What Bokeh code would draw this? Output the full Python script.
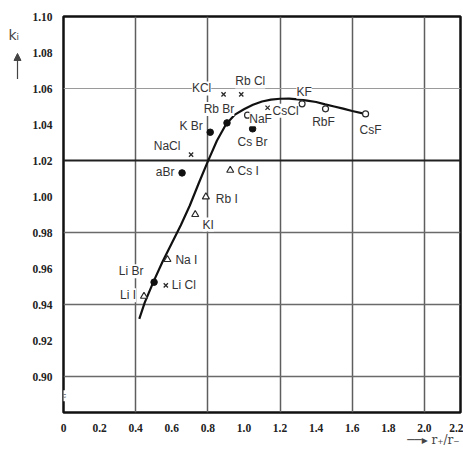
from bokeh.plotting import figure
from bokeh.layouts import row
from bokeh.models import (ColumnDataSource, LabelSet, Label, Arrow, NormalHead,
                          FixedTicker, Grid, Range1d, LinearAxis)
from bokeh.core.properties import value
from bokeh.embed import file_html
from bokeh.resources import INLINE

# ---------------- data ----------------
cross_names = ["KCl", "Rb Cl", "NaCl", "CsCl", "Li Cl"]
cross_x = [0.887, 0.985, 0.707, 1.131, 0.567]
cross_y = [1.0567, 1.0567, 1.0233, 1.0493, 0.9506]

dot_names = ["Rb Br", "K Br", "aBr", "Cs Br", "Li Br"]
dot_x = [0.906, 0.813, 0.657, 1.048, 0.502]
dot_y = [1.0409, 1.0357, 1.0131, 1.0376, 0.9524]

circle_names = ["NaF", "KF", "RbF", "CsF"]
circle_x = [1.020, 1.322, 1.452, 1.674]
circle_y = [1.0452, 1.0515, 1.0487, 1.0459]

tri_names = ["Cs I", "Rb I", "KI", "Na I", "Li I"]
tri_x = [0.924, 0.789, 0.730, 0.576, 0.446]
tri_y = [1.0146, 0.9998, 0.990, 0.965, 0.9446]

curve_x = [0.42, 0.45, 0.50, 0.55, 0.60, 0.65, 0.70, 0.75, 0.80, 0.85, 0.90,
           0.95, 1.00, 1.05, 1.10, 1.15, 1.20, 1.25, 1.30, 1.35, 1.40, 1.45,
           1.50, 1.55, 1.60, 1.67]
curve_y = [0.932, 0.941, 0.953, 0.964, 0.974, 0.984, 0.995, 1.0075, 1.0195,
           1.031, 1.040, 1.0455, 1.0485, 1.051, 1.0528, 1.0538, 1.0543, 1.0544,
           1.0540, 1.0533, 1.0525, 1.0512, 1.0500, 1.0488, 1.0475, 1.0459]

x_ticks = [0, 0.2, 0.4, 0.6, 0.8, 1.0, 1.2, 1.4, 1.6, 1.8, 2.0, 2.2]
x_tick_labels = ["0", "0.2", "0.4", "0.6", "0.8", "1.0", "1.2", "1.4", "1.6", "1.8", "2.0", "2.2"]
y_ticks = [0.90, 0.92, 0.94, 0.96, 0.98, 1.00, 1.02, 1.04, 1.06, 1.08, 1.10]
y_tick_labels = ["0.90", "0.92", "0.94", "0.96", "0.98", "1.00", "1.02", "1.04", "1.06", "1.08", "1.10"]
x_title = "──▸ r₊/r₋"
y_title = "kᵢ"

# label offsets in screen pixels (layout only)
label_offsets = {
    "KCl": (-22, 6), "Rb Cl": (9, 13), "NaCl": (-24, 9), "CsCl": (18, -3), "Li Cl": (18, 0),
    "Rb Br": (-8, 14), "K Br": (-19, 6), "aBr": (-17, 1), "Cs Br": (0, -13), "Li Br": (-23, 11),
    "NaF": (13, -4), "KF": (2, 12), "RbF": (-2, -13), "CsF": (5, -16),
    "Cs I": (18, -1), "Rb I": (21, -2), "KI": (13, -10), "Na I": (19, 0), "Li I": (-16, 1),
}

INK = "#2a2a2a"
LEFT_W = 26

p = figure(width=463 - LEFT_W, height=450, x_range=Range1d(0, 2.2), y_range=Range1d(0.88, 1.10),
           output_backend="svg", toolbar_location=None,
           min_border_left=63 - LEFT_W, min_border_right=3, min_border_top=16, min_border_bottom=38)
p.outline_line_color = "#111111"
p.outline_line_width = 2.5
p.background_fill_color = "white"

# grids
p.xgrid.ticker = FixedTicker(ticks=[0.4, 0.8, 1.2, 1.6, 2.0])
p.xgrid.grid_line_color = "#5e5e5e"
p.xgrid.grid_line_width = 1.5
p.ygrid.ticker = FixedTicker(ticks=[0.90, 0.94, 0.98])
p.ygrid.grid_line_color = "#6a6a6a"
p.ygrid.grid_line_width = 1.4
p.add_layout(Grid(dimension=1, ticker=FixedTicker(ticks=[1.06]),
                  grid_line_color="#9a9a9a", grid_line_width=1.2))
p.add_layout(Grid(dimension=1, ticker=FixedTicker(ticks=[1.02]),
                  grid_line_color="#202020", grid_line_width=1.8))

# axes
for ax in (p.xaxis, p.yaxis):
    ax.axis_line_color = None
    ax.major_tick_line_color = None
    ax.minor_tick_line_color = None
    ax.major_tick_out = 0
    ax.major_tick_in = 0
    ax.minor_tick_out = 0
    ax.minor_tick_in = 0
    ax.major_label_text_font = "Liberation Serif"
    ax.major_label_text_font_style = "bold"
    ax.major_label_text_font_size = "11.5px"
    ax.major_label_text_color = "#222222"
p.xaxis.ticker = FixedTicker(ticks=x_ticks)
p.yaxis.ticker = FixedTicker(ticks=y_ticks)
p.xaxis.major_label_overrides = dict(zip(x_ticks, x_tick_labels))
p.yaxis.major_label_overrides = dict(zip(y_ticks, y_tick_labels))
p.xaxis.major_label_standoff = 11
p.yaxis.major_label_standoff = 11

# x-axis title as an extra axis tick label at the bottom right
xt = LinearAxis(ticker=FixedTicker(ticks=[2.05]), major_label_overrides={2.05: x_title},
                axis_line_color=None, major_tick_line_color=None, minor_tick_line_color=None,
                major_tick_out=0, major_tick_in=0, minor_tick_out=0, minor_tick_in=0,
                major_label_standoff=-2, major_label_text_font="DejaVu Serif",
                major_label_text_font_size="12px", major_label_text_color="#444444")
p.add_layout(xt, "below")

# curve
p.line(curve_x, curve_y, line_color="#111111", line_width=2.2)

# markers
p.scatter(cross_x, cross_y, marker="x", size=6, line_color=INK, line_width=1.3)
p.scatter(dot_x, dot_y, marker="circle", size=6.5, fill_color="#111111", line_color="#111111")
p.scatter(circle_x, circle_y, marker="circle", size=6, fill_color="white", line_color=INK, line_width=1.2)
p.scatter(tri_x, tri_y, marker="triangle", size=7, fill_color="white", line_color=INK, line_width=1.2)

# labels
names = cross_names + dot_names + circle_names + tri_names
lx = cross_x + dot_x + circle_x + tri_x
ly = cross_y + dot_y + circle_y + tri_y
src = ColumnDataSource(dict(x=lx, y=ly, name=names,
                            dx=[label_offsets[n][0] for n in names],
                            dy=[label_offsets[n][1] for n in names]))
p.add_layout(LabelSet(x="x", y="y", text="name", source=src, x_offset="dx", y_offset="dy",
                      text_align="center", text_baseline="middle",
                      text_font=value("Liberation Sans"), text_font_size=value("12px"),
                      text_color=value("#333333"),
                      background_fill_color="white", background_fill_alpha=1.0))

# axis break mark
p.add_layout(Label(x=0, y=0.8893, text="≈", text_align="center", text_baseline="middle",
                   text_font_size="10px", text_color="#555555",
                   background_fill_color="white"))

# narrow strip on the left holding the y title and its arrow (pixel coordinates)
left = figure(width=LEFT_W, height=450, x_range=Range1d(0, LEFT_W), y_range=Range1d(450, 0),
              output_backend="svg", toolbar_location=None,
              min_border_left=0, min_border_right=0, min_border_top=0, min_border_bottom=0)
left.axis.visible = False
left.grid.visible = False
left.outline_line_color = None
left.add_layout(Label(x=8, y=21, text=y_title, text_align="left", text_baseline="middle",
                      text_font="DejaVu Sans", text_font_size="14px", text_color="#444444"))
left.add_layout(Arrow(end=NormalHead(size=7, fill_color="#444444", line_color="#444444"),
                      x_start=17, y_start=71, x_end=17, y_end=42,
                      line_color="#444444", line_width=1.2))

layout = row(left, p, spacing=0)
open("out.html", "w").write(file_html(layout, INLINE))
